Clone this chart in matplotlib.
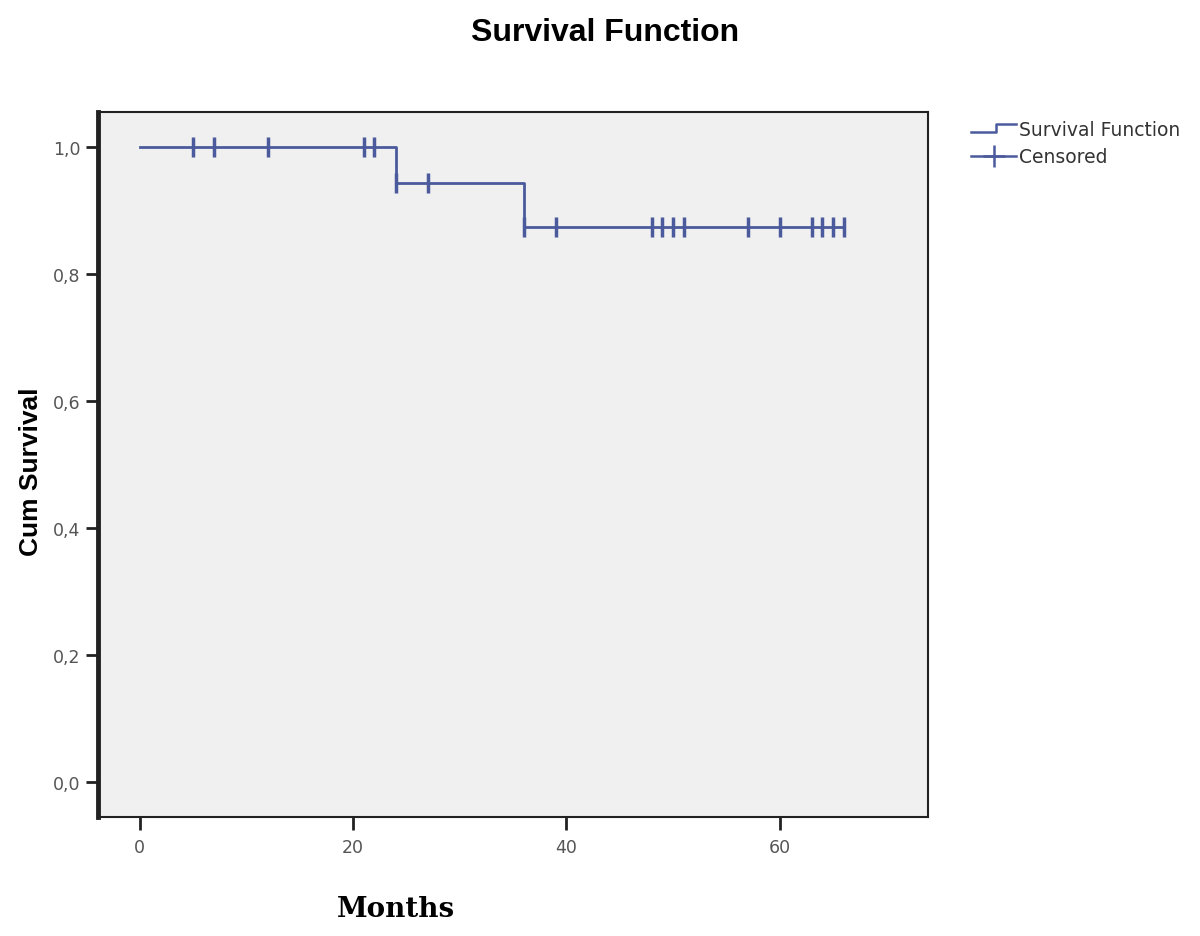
import numpy as np
import matplotlib.pyplot as plt
from matplotlib.legend_handler import HandlerBase
from matplotlib.lines import Line2D
from matplotlib.ticker import FuncFormatter

# step function (time, cum survival)
step_times = [0, 24, 36, 66]
step_surv = [1.0, 0.944, 0.875, 0.875]

# censored observations
cens_times = [5, 7, 12, 21, 22, 24, 27, 36, 39, 48, 49, 50, 51, 57, 60, 63, 64, 65, 66]
cens_surv = [1.0, 1.0, 1.0, 1.0, 1.0, 0.944, 0.944, 0.875, 0.875, 0.875, 0.875,
             0.875, 0.875, 0.875, 0.875, 0.875, 0.875, 0.875, 0.875]

x_ticks = [0, 20, 40, 60]
y_ticks = [0.0, 0.2, 0.4, 0.6, 0.8, 1.0]

line_col = '#4a5a9c'
text_col = '#555555'


class StepHandler(HandlerBase):
    def create_artists(self, legend, orig_handle, xdescent, ydescent,
                       width, height, fontsize, trans):
        xs = [0, width * 0.55, width * 0.55, width]
        ys = [height * 0.2, height * 0.2, height * 0.85, height * 0.85]
        ln = Line2D(xs, ys, color=line_col, lw=1.8, transform=trans)
        return [ln]


fig = plt.figure(figsize=(12, 9.37), dpi=100)
ax = fig.add_axes([0.0817, 0.127, 0.6917, 0.752])
ax.set_facecolor('#f0f0f0')

ax.step(step_times, step_surv, where='post', color=line_col, lw=2.0)
ax.plot(cens_times, cens_surv, linestyle='none', marker='|', markersize=14,
        markeredgewidth=2.5, color=line_col)

ax.set_xlim(-3.9, 73.9)
ax.set_ylim(-0.055, 1.055)
ax.set_xticks(x_ticks)
ax.set_yticks(y_ticks)
ax.yaxis.set_major_formatter(FuncFormatter(lambda v, p: f"{v:.1f}".replace('.', ',')))
ax.tick_params(axis='both', colors='#222222', labelcolor=text_col, labelsize=12.5,
               length=9, width=2)
ax.tick_params(axis='x', pad=6)
for s in ax.spines.values():
    s.set_linewidth(1.5)
    s.set_color('#222222')
ax.spines['left'].set_linewidth(3.5)

fig.text(0.504, 0.965, 'Survival Function', ha='center', va='center',
         fontsize=23, fontweight='bold', family='Liberation Sans')
fig.text(0.026, 0.497, 'Cum Survival', ha='center', va='center', rotation=90,
         fontsize=19, fontweight='bold', family='Liberation Sans')
fig.text(0.330, 0.029, 'Months', ha='center', va='center', fontsize=20,
         fontweight='bold', family='DejaVu Serif')

h_step = Line2D([], [], color=line_col)
h_cens = Line2D([0, 1], [0, 1], color=line_col, marker='+', markersize=16,
                markeredgewidth=1.8, lw=1.8)
leg = fig.legend([h_step, h_cens], ['Survival Function', 'Censored'],
                 handler_map={h_step: StepHandler()},
                 loc='upper left', bbox_to_anchor=(0.803, 0.879), frameon=False,
                 fontsize=13.5, handlelength=2.4, handletextpad=0.15,
                 labelspacing=0.45, borderaxespad=0)
for t in leg.get_texts():
    t.set_color('#333333')

fig.savefig('out.png', dpi=100)
